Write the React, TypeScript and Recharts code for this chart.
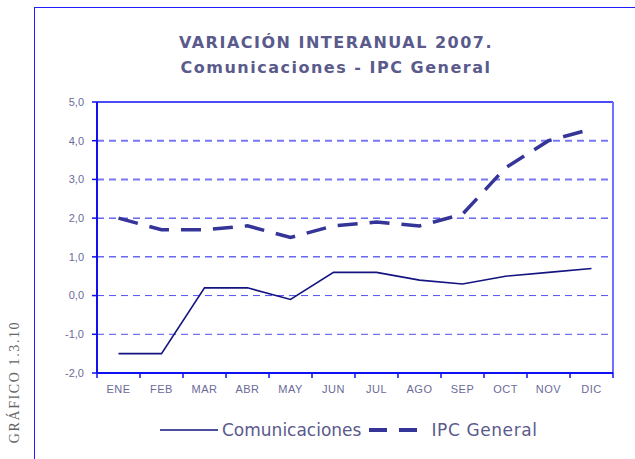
import React from "react";
import { LineChart, Line, XAxis, YAxis, ReferenceLine } from "recharts";

const months = ["ENE", "FEB", "MAR", "ABR", "MAY", "JUN", "JUL", "AGO", "SEP", "OCT", "NOV", "DIC"];
const comunicaciones = [-1.5, -1.5, 0.2, 0.2, -0.1, 0.6, 0.6, 0.4, 0.3, 0.5, 0.6, 0.7];
const ipcGeneral = [2.0, 1.7, 1.7, 1.8, 1.5, 1.8, 1.9, 1.8, 2.1, 3.3, 4.0, 4.3];
const yTicks = [-2, -1, 0, 1, 2, 3, 4, 5];
const gridValues = [-1, 0, 1, 2, 3, 4];
// band edges (integers) + band centres (halves) on a 0..12 scale
const xTicks = Array.from({ length: 25 }, (_, i) => i / 2);

const data = months.map((mes, i) => ({
  mes,
  pos: i + 0.5,
  com: comunicaciones[i],
  ipc: ipcGeneral[i],
}));

const BLUE = "#1010f0";
const TEXT = "#6b6b99";

function gridStyle(v: number) {
  if (v >= 3) return { stroke: "#7878f4", width: 2 };
  if (v >= 1) return { stroke: "#1a1ae8", width: 1 };
  return { stroke: "#5050ee", width: 1 };
}

function MonthTick(props: any) {
  const { x, y, payload } = props;
  const v = payload.value as number;
  if (Number.isInteger(v)) {
    return <line x1={x} y1={y} x2={x} y2={y + 5} stroke={BLUE} strokeWidth={1.5} />;
  }
  return (
    <text x={x} y={y + 20} textAnchor="middle" fill={TEXT} fontSize={11} letterSpacing={0.5} fontFamily="Liberation Sans, Arial, sans-serif">
      {months[Math.floor(v)]}
    </text>
  );
}

export default function App() {
  return (
    <div style={styles.page}>
      <div style={styles.frameTop} />
      <div style={styles.frameLeft} />

      <div style={styles.title}>
        <div>VARIACIÓN INTERANUAL 2007.</div>
        <div>Comunicaciones - IPC General</div>
      </div>

      <div style={styles.sideLabel}>GRÁFICO 1.3.10</div>

      <div style={{ position: "absolute", left: 0, top: 0 }}>
        <LineChart width={635} height={459} data={data} margin={{ top: 102, right: 22, left: 37, bottom: 56 }}>
          {gridValues.map((v) => {
            const g = gridStyle(v);
            return <ReferenceLine key={v} y={v} stroke={g.stroke} strokeWidth={g.width} strokeDasharray="7 5" />;
          })}
          <XAxis
            dataKey="pos"
            type="number"
            domain={[0, 12]}
            ticks={xTicks}
            interval={0}
            tickLine={false}
            tickSize={0}
            tickMargin={0}
            tick={<MonthTick />}
            axisLine={{ stroke: BLUE, strokeWidth: 2 }}
            height={30}
          />
          <YAxis
            domain={[-2, 5]}
            ticks={yTicks}
            interval={0}
            width={60}
            tickSize={5}
            tickMargin={8}
            tickFormatter={(v: number) => v.toFixed(1).replace(".", ",")}
            tick={{ fill: TEXT, fontSize: 11, fontFamily: "Liberation Sans, Arial, sans-serif" }}
            tickLine={{ stroke: BLUE, strokeWidth: 1.5 }}
            axisLine={{ stroke: BLUE, strokeWidth: 2 }}
          />
          <ReferenceLine y={5} stroke={BLUE} strokeWidth={1.5} />
          <ReferenceLine x={12} stroke="#7070ff" strokeWidth={2} />
          <Line
            type="linear"
            dataKey="com"
            stroke="#141480"
            strokeWidth={1.6}
            dot={false}
            isAnimationActive={false}
          />
          <Line
            type="linear"
            dataKey="ipc"
            stroke="#343499"
            strokeWidth={3.5}
            strokeDasharray="20 12"
            dot={false}
            isAnimationActive={false}
          />
        </LineChart>
      </div>

      <div style={styles.legend}>
        <svg width={60} height={10}>
          <line x1={0} y1={5} x2={58} y2={5} stroke="#141480" strokeWidth={1.6} />
        </svg>
        <span style={{ marginLeft: 2, marginRight: 8 }}>Comunicaciones</span>
        <svg width={60} height={10}>
          <line x1={0} y1={5} x2={58} y2={5} stroke="#343499" strokeWidth={4} strokeDasharray="18 12" />
        </svg>
        <span style={{ marginLeft: 2, letterSpacing: 0.6 }}>IPC General</span>
      </div>
    </div>
  );
}

const styles = {
  page: {
    position: "absolute",
    left: 0,
    top: 0,
    width: 635,
    height: 459,
    background: "#fff",
    overflow: "hidden",
  } as React.CSSProperties,
  frameTop: { position: "absolute", left: 34, top: 7, width: 610, height: 0, borderTop: "1.5px solid #2020ff" } as React.CSSProperties,
  frameLeft: { position: "absolute", left: 34, top: 7, width: 0, height: 460, borderLeft: "1.5px solid #2020ff" } as React.CSSProperties,
  title: {
    position: "absolute",
    left: 34,
    width: 604,
    top: 30,
    textAlign: "center",
    color: "#5a5a8c",
    fontFamily: "DejaVu Sans, Verdana, sans-serif",
    fontWeight: 700,
    fontSize: 16,
    letterSpacing: 1.5,
    lineHeight: "25px",
  } as React.CSSProperties,
  sideLabel: {
    position: "absolute",
    left: 15,
    top: 382,
    transform: "translate(-50%, -50%) rotate(-90deg)",
    whiteSpace: "nowrap",
    color: "#666",
    fontFamily: "Liberation Serif, DejaVu Serif, serif",
    fontSize: 14,
    letterSpacing: 1.6,
  } as React.CSSProperties,
  legend: {
    position: "absolute",
    left: 160,
    top: 420,
    display: "flex",
    alignItems: "center",
    color: "#5a5a8c",
    fontFamily: "DejaVu Sans, Verdana, sans-serif",
    fontSize: 17,
    whiteSpace: "nowrap",
  } as React.CSSProperties,
};
